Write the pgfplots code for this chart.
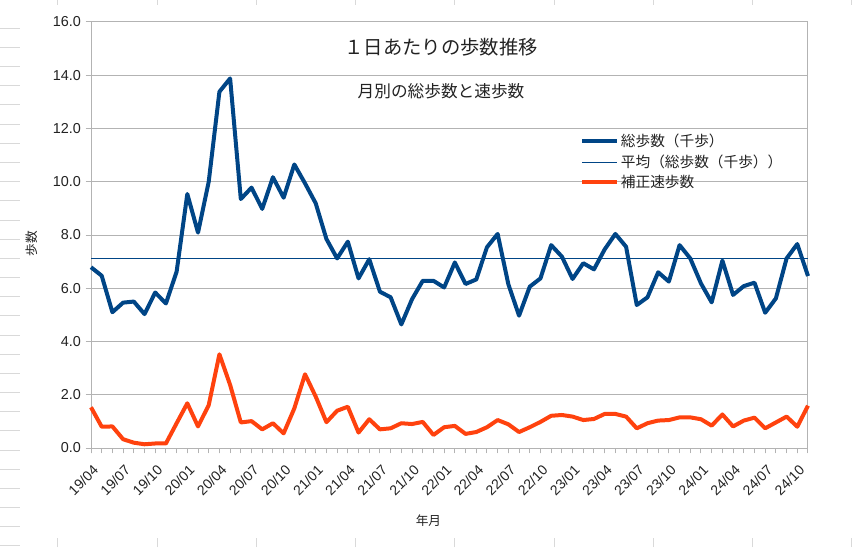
\documentclass[border=0pt]{standalone}
\usepackage{fontspec}
\setmainfont{Liberation Sans}
\newfontfamily\jp{Noto Sans CJK JP}
\usepackage{pgfplots}
\pgfplotsset{compat=1.18}
\definecolor{sblue}{HTML}{004586}
\definecolor{sorange}{HTML}{FF420E}
\definecolor{gridc}{HTML}{B3B3B3}
\definecolor{cellc}{HTML}{D9D9D9}
\definecolor{txt}{HTML}{222222}
\begin{document}
\begin{tikzpicture}[x=1pt,y=1pt]
\useasboundingbox (-68.25,-74.25) rectangle (573.75,336);
\foreach \k in {0,...,27} {\draw[cellc, line width=0.75pt] (-68.25, {(419.7-19.17*\k)*0.75}) -- ++(15,0);}
\foreach \k in {0,...,8} {\draw[cellc, line width=0.75pt] ({(58+99.2*\k-91)*0.75}, 336) -- ++(0,-4);
  \draw[cellc, line width=0.75pt] ({(58+99.2*\k-91)*0.75}, -74.25) -- ++(0,7);}
\begin{axis}[at={(0,0)}, anchor=south west, scale only axis,
  width=537.75pt, height=319.5pt,
  xmin=0, xmax=67, ymin=0, ymax=16,
  xtick={0,3,...,66},
  xticklabels={19/04,19/07,19/10,20/01,20/04,20/07,20/10,21/01,21/04,21/07,21/10,22/01,22/04,22/07,22/10,23/01,23/04,23/07,23/10,24/01,24/04,24/07,24/10},
  minor xtick={0,...,67},
  ytick={0,2,...,16},
  ymajorgrids, grid style={gridc, line width=0.75pt},
  axis line style={gridc, line width=0.75pt},
  tick style={gridc, line width=0.75pt},
  major tick length=4pt, minor tick length=4pt, tick align=outside,
  xtick pos=lower, ytick pos=left,
  yticklabel style={font=\fontsize{10.8}{12}\selectfont, text=txt, /pgf/number format/.cd, fixed, fixed zerofill, precision=1, assume math mode=true},
  xticklabel style={rotate=45, anchor=north east, font=\fontsize{10.5}{12}\selectfont, text=txt, inner sep=1pt, xshift=-4pt, yshift=-5pt},
  legend style={at={(0.682,0.742)}, anchor=north west, draw=none, fill=none,
    font=\jp\fontsize{11}{12}\selectfont, text=txt, row sep=1.5pt, inner sep=0pt,
    nodes={inner sep=1.5pt}},
  legend cell align=left,
  legend image code/.code={\draw[#1] (0pt,0pt) -- (26pt,0pt);},
  clip=false,
]
\addplot[sblue, line width=3pt, line join=round] coordinates {
(0,6.79) (1,6.47) (2,5.10) (3,5.46) (4,5.50) (5,5.03) (6,5.84) (7,5.43) (8,6.62) (9,9.54)
(10,8.09) (11,10.00) (12,13.38) (13,13.88) (14,9.35) (15,9.78) (16,8.98) (17,10.17) (18,9.40) (19,10.65)
(20,9.94) (21,9.19) (22,7.85) (23,7.12) (24,7.75) (25,6.37) (26,7.09) (27,5.87) (28,5.66) (29,4.64)
(30,5.59) (31,6.28) (32,6.28) (33,6.03) (34,6.97) (35,6.16) (36,6.33) (37,7.54) (38,8.04) (39,6.15)
(40,4.97) (41,6.06) (42,6.37) (43,7.62) (44,7.19) (45,6.35) (46,6.94) (47,6.71) (48,7.46) (49,8.04)
(50,7.56) (51,5.37) (52,5.66) (53,6.60) (54,6.25) (55,7.62) (56,7.12) (57,6.18) (58,5.47) (59,7.04)
(60,5.75) (61,6.08) (62,6.21) (63,5.08) (64,5.62) (65,7.12) (66,7.66) (67,6.46)};
\addlegendentry{総歩数（千歩）}
\addplot[sblue, line width=0.75pt] coordinates {(0,7.12) (67,7.12)};
\addlegendentry{平均（総歩数（千歩））}
\addplot[sorange, line width=3pt, line join=round] coordinates {
(0,1.53) (1,0.80) (2,0.81) (3,0.33) (4,0.20) (5,0.14) (6,0.17) (7,0.17) (8,0.93) (9,1.68)
(10,0.81) (11,1.61) (12,3.52) (13,2.37) (14,0.96) (15,1.01) (16,0.70) (17,0.93) (18,0.55) (19,1.49)
(20,2.77) (21,1.93) (22,0.97) (23,1.40) (24,1.55) (25,0.58) (26,1.08) (27,0.70) (28,0.74) (29,0.93)
(30,0.90) (31,0.98) (32,0.49) (33,0.78) (34,0.83) (35,0.53) (36,0.60) (37,0.78) (38,1.05) (39,0.89)
(40,0.60) (41,0.78) (42,0.98) (43,1.21) (44,1.24) (45,1.18) (46,1.05) (47,1.09) (48,1.28) (49,1.28)
(50,1.18) (51,0.74) (52,0.93) (53,1.03) (54,1.05) (55,1.15) (56,1.15) (57,1.08) (58,0.84) (59,1.26)
(60,0.81) (61,1.03) (62,1.14) (63,0.74) (64,0.96) (65,1.18) (66,0.80) (67,1.59)};
\addlegendentry{補正速歩数}
\end{axis}
\node[font=\jp\fontsize{14.5}{16}\selectfont, text=txt] at (262.5,300.75) {１日あたりの歩数推移};
\node[font=\jp\fontsize{12.5}{14}\selectfont, text=txt] at (262.5,267.75) {月別の総歩数と速歩数};
\node[rotate=90, font=\jp\fontsize{9.5}{11}\selectfont, text=txt] at (-44.25,153.4) {歩数};
\node[font=\jp\fontsize{9.5}{11}\selectfont, text=txt] at (253.1,-54.75) {年月};
\end{tikzpicture}
\end{document}
